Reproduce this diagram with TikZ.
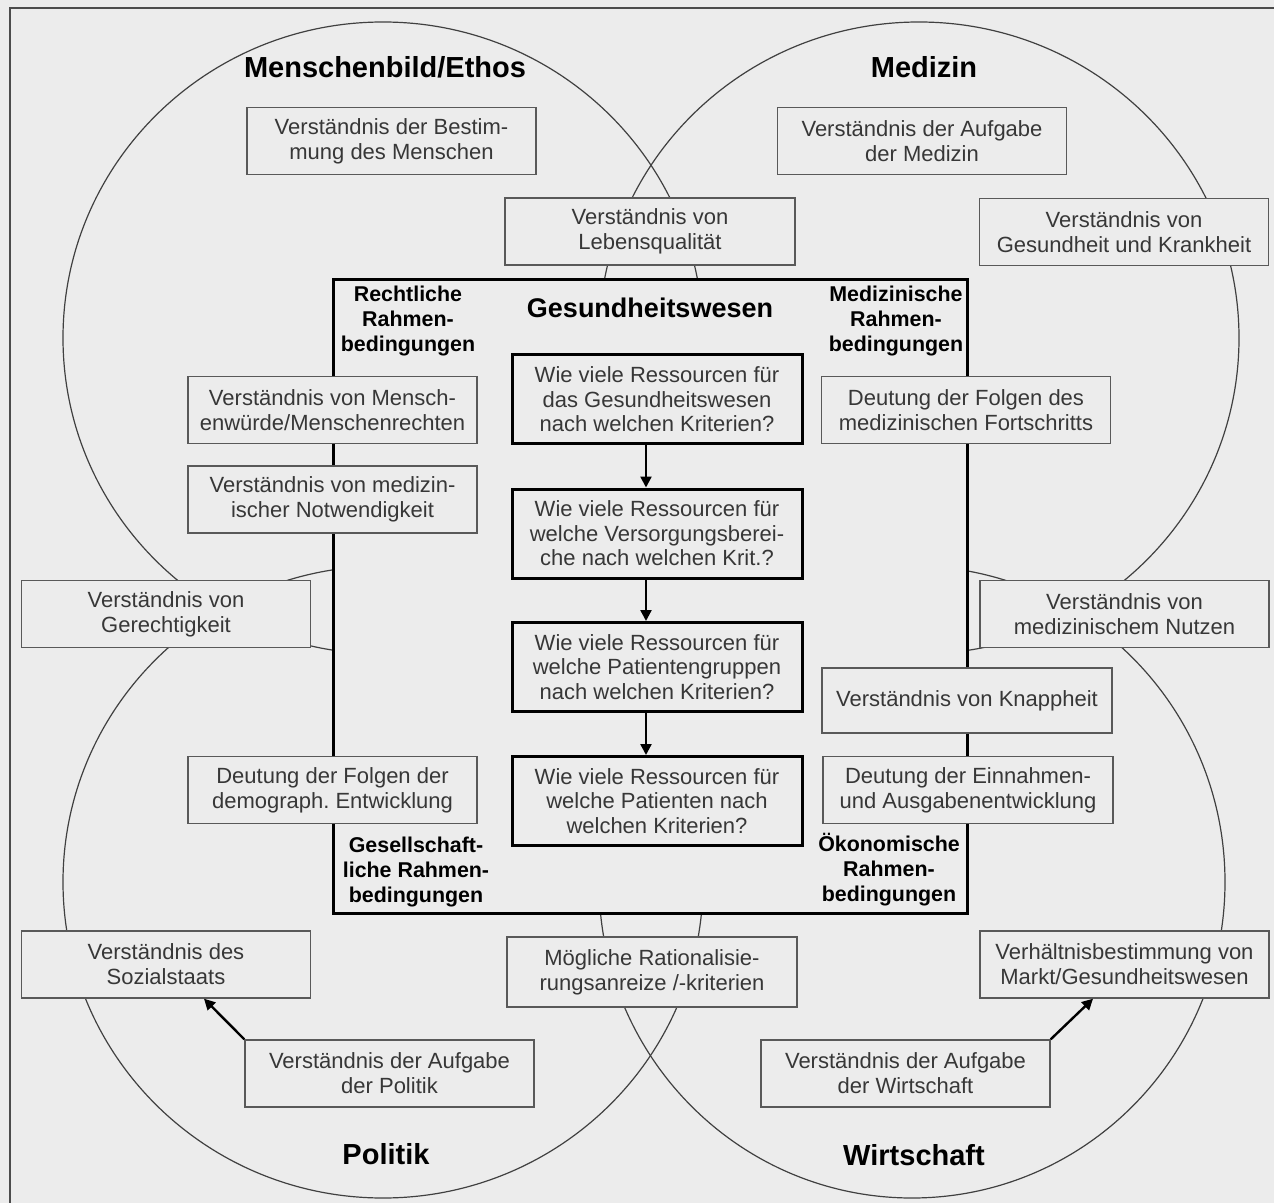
\documentclass[tikz,border=0pt]{standalone}
\usepackage{fontspec}
\setmainfont{Liberation Sans}
\usetikzlibrary{arrows.meta}
\frenchspacing

\definecolor{bgc}{RGB}{236,236,236}
\definecolor{ink}{RGB}{55,55,55}

\tikzset{
  ring/.style={draw=black!75, line width=0.6pt},
  infobox/.style={draw=black!65, line width=0.7pt, fill=bgc, text=ink, align=center,
    inner sep=0pt, minimum width=144.5pt, minimum height=33.5pt,
    font=\fontsize{11}{12.5}\selectfont},
  qbox/.style={draw=black, line width=1.5pt, fill=bgc, text=ink, align=center,
    inner sep=0pt, minimum width=145pt, minimum height=44.5pt,
    font=\fontsize{11}{12.3}\selectfont},
  corner/.style={align=center, inner sep=0pt, font=\fontsize{10.7}{12.5}\selectfont\bfseries},
  area/.style={inner sep=0pt, font=\fontsize{14.5}{16}\selectfont\bfseries},
  flow/.style={line width=1.2pt, -{Triangle[length=5.5pt,width=5.5pt]}},
}

\begin{document}
\begin{tikzpicture}[x=0.5pt,y=-0.5pt]
\fill[bgc] (0,0) rectangle (1274,1203);
\useasboundingbox (0,0) rectangle (1274,1203);
\draw[black!70, line width=1pt] (10,1203) -- (10,8) -- (1274,8);

% the four areas
\draw[ring] (383,338) ellipse [x radius=160pt, y radius=158pt];
\draw[ring] (919,338) ellipse [x radius=160pt, y radius=158pt];
\draw[ring] (383,882) ellipse [x radius=160pt, y radius=158pt];
\draw[ring] (912,882) ellipse [x radius=156.5pt, y radius=158pt];

\node[area] (ethos) at (385,67) {Menschenbild/Ethos};
\node[area] (med) at (924,67) {Medizin};
\node[area] (pol) at (386,1154) {Politik};
\node[area] (wirt) at (914,1155) {Wirtschaft};

% Gesundheitswesen
\node[draw, line width=1.5pt, fill=bgc, inner sep=0pt, minimum width=317pt, minimum height=316.5pt] (gw) at (650,596.5) {};
\node[inner sep=0pt, font=\fontsize{13.5}{15}\selectfont\bfseries] (gwtitle) at (650,308) {Gesundheitswesen};

\node[corner] (recht) at (408,321) {Rechtliche\\Rahmen-\\bedingungen};
\node[corner] (medr) at (896,321) {Medizinische\\Rahmen-\\bedingungen};
\node[corner] (ges) at (416,872) {Gesellschaft-\\liche Rahmen-\\bedingungen};
\node[corner] (oek) at (889,870) {Ökonomische\\Rahmen-\\bedingungen};

% chain of questions
\node[qbox] (q1) at (657,399.5) {Wie viele Ressourcen für\\das Gesundheitswesen\\nach welchen Kriterien?};
\node[qbox] (q2) at (657,533.5) {Wie viele Ressourcen für\\welche Versorgungsberei-\\che nach welchen Krit.?};
\node[qbox] (q3) at (657,667) {Wie viele Ressourcen für\\welche Patientengruppen\\nach welchen Kriterien?};
\node[qbox] (q4) at (657,801) {Wie viele Ressourcen für\\welche Patienten nach\\welchen Kriterien?};

\foreach \a/\b in {q1/q2,q2/q3,q3/q4}
  \draw[flow] ([xshift=-5.5pt]\a.south) -- ([xshift=-5.5pt]\b.north);

% understanding boxes
\node[infobox] (bestimmung) at (391.5,141) {Verständnis der Bestim-\\mung des Menschen};
\node[infobox] (aufgmed) at (922,141) {Verständnis der Aufgabe\\der Medizin};
\node[infobox, minimum width=145pt] (leben) at (650,231.5) {Verständnis von\\Lebensqualität};
\node[infobox] (gesund) at (1124,232) {Verständnis von\\Gesundheit und Krankheit};

\node[infobox] (wuerde) at (332.5,410) {Verständnis von Mensch-\\enwürde/Menschenrechten};
\node[infobox] (notw) at (332.5,499.5) {Verständnis von medizin-\\ischer Notwendigkeit};
\node[infobox] (gerecht) at (166,614) {Verständnis von\\Gerechtigkeit};
\node[infobox] (demo) at (332.5,790) {Deutung der Folgen der\\demograph. Entwicklung};
\node[infobox] (sozial) at (166,964.5) {Verständnis des\\Sozialstaats};
\node[infobox] (politik) at (389.5,1073.5) {Verständnis der Aufgabe\\der Politik};
\node[infobox, minimum width=145pt, minimum height=35pt] (ration) at (652,972) {Mögliche Rationalisie-\\rungsanreize /-kriterien};

\node[infobox] (fortschritt) at (966,410) {Deutung der Folgen des\\medizinischen Fortschritts};
\node[infobox] (nutzen) at (1124.5,614) {Verständnis von\\medizinischem Nutzen};
\node[infobox, minimum width=145pt, minimum height=32.5pt] (knapp) at (967,700.5) {Verständnis von Knappheit};
\node[infobox, minimum width=145pt] (einnahmen) at (968,790) {Deutung der Einnahmen-\\und Ausgabenentwicklung};
\node[infobox] (markt) at (1124.5,964.5) {Verhältnisbestimmung von\\Markt/Gesundheitswesen};
\node[infobox] (wirtschaft) at (905.5,1073.5) {Verständnis der Aufgabe\\der Wirtschaft};

\draw[flow] (politik.north west) -- ([xshift=19pt]sozial.south);
\draw[flow] (wirtschaft.north east) -- ([xshift=-15.75pt]markt.south);
\end{tikzpicture}
\end{document}
